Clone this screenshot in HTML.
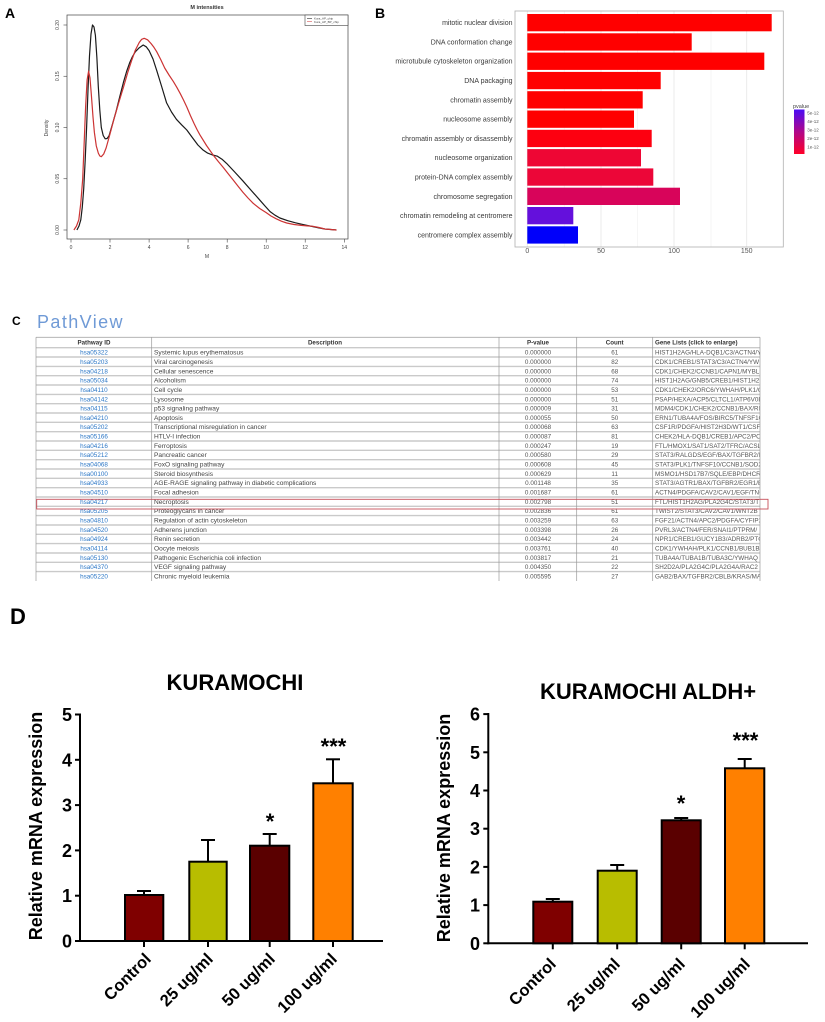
<!DOCTYPE html>
<html><head><meta charset="utf-8"><style>
html,body{margin:0;padding:0;background:#fff;}
svg{display:block;font-family:"Liberation Sans",Arial,sans-serif;}
</style></head><body>
<svg width="825" height="1022" viewBox="0 0 825 1022" xmlns="http://www.w3.org/2000/svg">
<defs>
<linearGradient id="pg" x1="0" y1="0" x2="0" y2="1">
<stop offset="0" stop-color="#4a0cf5"/><stop offset="0.5" stop-color="#b0088a"/><stop offset="1" stop-color="#ff0028"/>
</linearGradient>
<clipPath id="gc"><rect x="653" y="337" width="106.5" height="245"/></clipPath>
</defs>

<!-- Panel A -->
<text x="5" y="18" font-size="14" font-weight="bold" fill="#000">A</text>
<text x="207" y="9" font-size="5.5" font-weight="bold" text-anchor="middle" fill="#333">M intensities</text>
<rect x="67" y="15" width="281" height="224" fill="none" stroke="#444" stroke-width="0.7"/>
<rect x="305" y="15" width="43" height="10.5" fill="#fff" stroke="#444" stroke-width="0.6"/>
<line x1="307" y1="18.5" x2="312" y2="18.5" stroke="#000" stroke-width="0.5"/>
<line x1="307" y1="21.5" x2="312" y2="21.5" stroke="#c33" stroke-width="0.5"/>
<text x="314" y="19.5" font-size="3" fill="#444">Kura_AP_chip</text>
<text x="314" y="23" font-size="3" fill="#444">Kura_AP_BP_chip</text>
<g stroke="#444" stroke-width="0.6">
<line x1="71" y1="239" x2="71" y2="242.5"/><line x1="110" y1="239" x2="110" y2="242.5"/><line x1="149.1" y1="239" x2="149.1" y2="242.5"/><line x1="188.1" y1="239" x2="188.1" y2="242.5"/><line x1="227.2" y1="239" x2="227.2" y2="242.5"/><line x1="266.2" y1="239" x2="266.2" y2="242.5"/><line x1="305.2" y1="239" x2="305.2" y2="242.5"/><line x1="344.3" y1="239" x2="344.3" y2="242.5"/>
<line x1="67" y1="230" x2="63.5" y2="230"/><line x1="67" y1="178.75" x2="63.5" y2="178.75"/><line x1="67" y1="127.5" x2="63.5" y2="127.5"/><line x1="67" y1="76.25" x2="63.5" y2="76.25"/><line x1="67" y1="25" x2="63.5" y2="25"/>
</g>
<g font-size="5" fill="#444" text-anchor="middle">
<text x="71" y="249">0</text><text x="110" y="249">2</text><text x="149.1" y="249">4</text><text x="188.1" y="249">6</text><text x="227.2" y="249">8</text><text x="266.2" y="249">10</text><text x="305.2" y="249">12</text><text x="344.3" y="249">14</text>
<text x="207" y="258">M</text>
<text transform="translate(59,230) rotate(-90)">0.00</text>
<text transform="translate(59,178.75) rotate(-90)">0.05</text>
<text transform="translate(59,127.5) rotate(-90)">0.10</text>
<text transform="translate(59,76.25) rotate(-90)">0.15</text>
<text transform="translate(59,25) rotate(-90)">0.20</text>
<text transform="translate(48,128) rotate(-90)">Density</text>
</g>
<polyline fill="none" stroke="#1a1a1a" stroke-width="1.2" stroke-linejoin="round" points="76.9,230 79,226 80.8,219.8 82.3,207 83.7,189 85.2,160 86.6,127.5 88,90 89.5,55.8 91,34 92.5,25 94,27 95.4,35.3 96.9,58 98.3,86.5 99.8,110 101.3,127.5 103.2,135.5 105.2,138.8 107.1,138.5 109.1,135.7 112.5,124 115.9,112.1 119.8,96.5 123.7,81.4 126.6,71.5 129.6,62.9 132.5,56.5 135.4,51.7 139.3,47.7 143.2,45 146.2,46.8 149.1,50.6 153,59 156.9,71.1 161.8,87 166.6,102.9 171.5,112 176.4,119.3 181.6,124.8 186.8,130 192.3,137.5 197.9,145 202.7,149.7 207.6,153.1 212.5,155 217.4,156.2 222,159.2 226.6,163.4 234.7,172 242.8,180.8 251.4,190.6 260,200.3 265,206 270.1,211.6 275,215.2 279.9,218 287.7,220.7 295.5,222.8 304.3,224.8 313,226.6 318.9,227.9 324.8,229 336.5,230"/>
<polyline fill="none" stroke="#cc3333" stroke-width="1.2" stroke-linejoin="round" points="73.9,230 76.5,226 78.8,219.8 80.8,203 82.7,178.8 84.2,142 85.6,107 87.1,80 88.6,71.1 90,78 91.5,96.8 93,117 94.4,132.6 96.3,146 98.3,153.1 99.8,156 101.3,156.7 103.7,154 106.1,148 110,134 113.9,119.3 118.8,102.5 123.7,86.5 127.6,73 131.5,60.9 135.4,50 139.3,42.4 141.7,39.3 144.2,38.3 147.6,39.8 151,43.5 153.9,47.3 156.7,51.7 160.7,59.5 164.7,68 169,75 173.3,81.4 176.8,87.3 180.3,93.7 183.5,100 186.8,107 190.4,115.5 194,123.4 197,129.5 199.8,134.7 206.5,145.5 213.3,155.2 218.3,161.5 223.3,167.5 228.2,173.8 233,179.8 237.9,186 242.8,192.1 248,198 253.3,203.4 259.7,208.5 266.2,212.6 271,216 276,218.7 281.4,221.2 286.7,223 294,224.5 301.3,225.4 307,225.9 313,226.3 319,227.5 324.8,229 336.5,230"/>

<!-- Panel B -->
<text x="375" y="18" font-size="14" font-weight="bold" fill="#000">B</text>
<g stroke="#efefef" stroke-width="0.6">
<line x1="564.2" y1="11" x2="564.2" y2="247"/><line x1="637.6" y1="11" x2="637.6" y2="247"/><line x1="711" y1="11" x2="711" y2="247"/>
</g>
<g stroke="#e6e6e6" stroke-width="0.8">
<line x1="527.3" y1="11" x2="527.3" y2="247"/><line x1="601" y1="11" x2="601" y2="247"/><line x1="674" y1="11" x2="674" y2="247"/><line x1="746.7" y1="11" x2="746.7" y2="247"/>
</g>
<g>
<rect x="527.3" y="14" width="244.4" height="17.3" fill="#ff0000"/>
<rect x="527.3" y="33.3" width="164.4" height="17.3" fill="#ff0000"/>
<rect x="527.3" y="52.6" width="237" height="17.3" fill="#ff0000"/>
<rect x="527.3" y="71.9" width="133.4" height="17.3" fill="#ff0000"/>
<rect x="527.3" y="91.2" width="115.4" height="17.3" fill="#ff0000"/>
<rect x="527.3" y="110.5" width="106.7" height="17.3" fill="#ff0000"/>
<rect x="527.3" y="129.8" width="124.4" height="17.3" fill="#fd0010"/>
<rect x="527.3" y="149.1" width="113.7" height="17.3" fill="#ee0634"/>
<rect x="527.3" y="168.4" width="126" height="17.3" fill="#ec0638"/>
<rect x="527.3" y="187.7" width="152.7" height="17.3" fill="#d8045a"/>
<rect x="527.3" y="207" width="46" height="17.3" fill="#6410dc"/>
<rect x="527.3" y="226.3" width="50.7" height="17.3" fill="#0000fa"/>
</g>
<rect x="515" y="11" width="268.3" height="236" fill="none" stroke="#b0b0b0" stroke-width="0.8"/>
<g font-size="7" fill="#3a3a3a" text-anchor="end">
<text x="512.5" y="25.1">mitotic nuclear division</text>
<text x="512.5" y="44.4">DNA conformation change</text>
<text x="512.5" y="63.7">microtubule cytoskeleton organization</text>
<text x="512.5" y="83">DNA packaging</text>
<text x="512.5" y="102.3">chromatin assembly</text>
<text x="512.5" y="121.6">nucleosome assembly</text>
<text x="512.5" y="140.9">chromatin assembly or disassembly</text>
<text x="512.5" y="160.2">nucleosome organization</text>
<text x="512.5" y="179.5">protein-DNA complex assembly</text>
<text x="512.5" y="198.8">chromosome segregation</text>
<text x="512.5" y="218.1">chromatin remodeling at centromere</text>
<text x="512.5" y="237.4">centromere complex assembly</text>
</g>
<g font-size="7" fill="#555" text-anchor="middle">
<text x="527.3" y="253">0</text><text x="601" y="253">50</text><text x="674" y="253">100</text><text x="746.7" y="253">150</text>
</g>
<text x="793" y="108" font-size="5.5" fill="#444">pvalue</text>
<rect x="794" y="109.5" width="10.5" height="44.5" fill="url(#pg)"/>
<g font-size="4.5" fill="#555">
<text x="807.3" y="114.5">5e-12</text><text x="807.3" y="122.8">4e-12</text><text x="807.3" y="131.5">3e-12</text><text x="807.3" y="139.8">2e-12</text><text x="807.3" y="148.5">1e-12</text>
</g>

<!-- Panel C -->
<text x="12" y="325" font-size="12" font-weight="bold" fill="#000">C</text>
<text x="37" y="328" font-size="18" fill="#6f9ad6" letter-spacing="1.4">PathView</text>
<g stroke="#cacaca" stroke-width="1.4">
<line x1="36" y1="347.7" x2="760" y2="347.7"/><line x1="36" y1="357" x2="760" y2="357"/><line x1="36" y1="366.4" x2="760" y2="366.4"/><line x1="36" y1="375.7" x2="760" y2="375.7"/><line x1="36" y1="385" x2="760" y2="385"/><line x1="36" y1="394.4" x2="760" y2="394.4"/><line x1="36" y1="403.7" x2="760" y2="403.7"/><line x1="36" y1="413" x2="760" y2="413"/><line x1="36" y1="422.3" x2="760" y2="422.3"/><line x1="36" y1="431.7" x2="760" y2="431.7"/><line x1="36" y1="441" x2="760" y2="441"/><line x1="36" y1="450.3" x2="760" y2="450.3"/><line x1="36" y1="459.7" x2="760" y2="459.7"/><line x1="36" y1="469" x2="760" y2="469"/><line x1="36" y1="478.3" x2="760" y2="478.3"/><line x1="36" y1="487.7" x2="760" y2="487.7"/><line x1="36" y1="497" x2="760" y2="497"/><line x1="36" y1="506.3" x2="760" y2="506.3"/><line x1="36" y1="515.6" x2="760" y2="515.6"/><line x1="36" y1="525" x2="760" y2="525"/><line x1="36" y1="534.3" x2="760" y2="534.3"/><line x1="36" y1="543.6" x2="760" y2="543.6"/><line x1="36" y1="553" x2="760" y2="553"/><line x1="36" y1="562.3" x2="760" y2="562.3"/><line x1="36" y1="571.6" x2="760" y2="571.6"/>
</g>
<line x1="36" y1="337.3" x2="760" y2="337.3" stroke="#aaa" stroke-width="0.8"/>
<g stroke="#9a9a9a" stroke-width="0.7">
<line x1="36" y1="337.3" x2="36" y2="581"/><line x1="151.7" y1="337.3" x2="151.7" y2="581"/><line x1="499" y1="337.3" x2="499" y2="581"/><line x1="576.7" y1="337.3" x2="576.7" y2="581"/><line x1="652.7" y1="337.3" x2="652.7" y2="581"/><line x1="760" y1="337.3" x2="760" y2="581"/>
</g>
<g font-size="6.2" font-weight="bold" fill="#333">
<text x="94" y="344.6" text-anchor="middle">Pathway ID</text>
<text x="325" y="344.6" text-anchor="middle">Description</text>
<text x="538" y="344.6" text-anchor="middle">P-value</text>
<text x="614.7" y="344.6" text-anchor="middle">Count</text>
<text x="655" y="344.6">Gene Lists (click to enlarge)</text>
</g>
<g font-size="6.3" fill="#2a76c6" text-anchor="middle">
<text x="94" y="354.6">hsa05322</text><text x="94" y="363.9">hsa05203</text><text x="94" y="373.3">hsa04218</text><text x="94" y="382.6">hsa05034</text><text x="94" y="391.9">hsa04110</text><text x="94" y="401.3">hsa04142</text><text x="94" y="410.6">hsa04115</text><text x="94" y="419.9">hsa04210</text><text x="94" y="429.2">hsa05202</text><text x="94" y="438.6">hsa05166</text><text x="94" y="447.9">hsa04216</text><text x="94" y="457.2">hsa05212</text><text x="94" y="466.6">hsa04068</text><text x="94" y="475.9">hsa00100</text><text x="94" y="485.2">hsa04933</text><text x="94" y="494.6">hsa04510</text><text x="94" y="503.9">hsa04217</text><text x="94" y="513.2">hsa05205</text><text x="94" y="522.5">hsa04810</text><text x="94" y="531.9">hsa04520</text><text x="94" y="541.2">hsa04924</text><text x="94" y="550.5">hsa04114</text><text x="94" y="559.9">hsa05130</text><text x="94" y="569.2">hsa04370</text><text x="94" y="578.5">hsa05220</text>
</g>
<g font-size="6.6" fill="#444">
<text x="154" y="354.6">Systemic lupus erythematosus</text><text x="154" y="363.9">Viral carcinogenesis</text><text x="154" y="373.3">Cellular senescence</text><text x="154" y="382.6">Alcoholism</text><text x="154" y="391.9">Cell cycle</text><text x="154" y="401.3">Lysosome</text><text x="154" y="410.6">p53 signaling pathway</text><text x="154" y="419.9">Apoptosis</text><text x="154" y="429.2">Transcriptional misregulation in cancer</text><text x="154" y="438.6">HTLV-I infection</text><text x="154" y="447.9">Ferroptosis</text><text x="154" y="457.2">Pancreatic cancer</text><text x="154" y="466.6">FoxO signaling pathway</text><text x="154" y="475.9">Steroid biosynthesis</text><text x="154" y="485.2">AGE-RAGE signaling pathway in diabetic complications</text><text x="154" y="494.6">Focal adhesion</text><text x="154" y="503.9">Necroptosis</text><text x="154" y="513.2">Proteoglycans in cancer</text><text x="154" y="522.5">Regulation of actin cytoskeleton</text><text x="154" y="531.9">Adherens junction</text><text x="154" y="541.2">Renin secretion</text><text x="154" y="550.5">Oocyte meiosis</text><text x="154" y="559.9">Pathogenic Escherichia coli infection</text><text x="154" y="569.2">VEGF signaling pathway</text><text x="154" y="578.5">Chronic myeloid leukemia</text>
</g>
<g font-size="6.3" fill="#555" text-anchor="middle">
<text x="538" y="354.6">0.000000</text><text x="538" y="363.9">0.000000</text><text x="538" y="373.3">0.000000</text><text x="538" y="382.6">0.000000</text><text x="538" y="391.9">0.000000</text><text x="538" y="401.3">0.000000</text><text x="538" y="410.6">0.000009</text><text x="538" y="419.9">0.000055</text><text x="538" y="429.2">0.000068</text><text x="538" y="438.6">0.000087</text><text x="538" y="447.9">0.000247</text><text x="538" y="457.2">0.000580</text><text x="538" y="466.6">0.000608</text><text x="538" y="475.9">0.000629</text><text x="538" y="485.2">0.001148</text><text x="538" y="494.6">0.001687</text><text x="538" y="503.9">0.002798</text><text x="538" y="513.2">0.002836</text><text x="538" y="522.5">0.003259</text><text x="538" y="531.9">0.003398</text><text x="538" y="541.2">0.003442</text><text x="538" y="550.5">0.003761</text><text x="538" y="559.9">0.003817</text><text x="538" y="569.2">0.004350</text><text x="538" y="578.5">0.005595</text>
<text x="614.7" y="354.6">61</text><text x="614.7" y="363.9">82</text><text x="614.7" y="373.3">68</text><text x="614.7" y="382.6">74</text><text x="614.7" y="391.9">53</text><text x="614.7" y="401.3">51</text><text x="614.7" y="410.6">31</text><text x="614.7" y="419.9">50</text><text x="614.7" y="429.2">63</text><text x="614.7" y="438.6">81</text><text x="614.7" y="447.9">19</text><text x="614.7" y="457.2">29</text><text x="614.7" y="466.6">45</text><text x="614.7" y="475.9">11</text><text x="614.7" y="485.2">35</text><text x="614.7" y="494.6">61</text><text x="614.7" y="503.9">51</text><text x="614.7" y="513.2">61</text><text x="614.7" y="522.5">63</text><text x="614.7" y="531.9">26</text><text x="614.7" y="541.2">24</text><text x="614.7" y="550.5">40</text><text x="614.7" y="559.9">21</text><text x="614.7" y="569.2">22</text><text x="614.7" y="578.5">27</text>
</g>
<g font-size="6.3" fill="#555" clip-path="url(#gc)">
<text x="655" y="354.6">HIST1H2AG/HLA-DQB1/C3/ACTN4/YWHAH</text><text x="655" y="363.9">CDK1/CREB1/STAT3/C3/ACTN4/YWHAH</text><text x="655" y="373.3">CDK1/CHEK2/CCNB1/CAPN1/MYBL2</text><text x="655" y="382.6">HIST1H2AG/GNB5/CREB1/HIST1H2BK</text><text x="655" y="391.9">CDK1/CHEK2/ORC6/YWHAH/PLK1/CCNB1</text><text x="655" y="401.3">PSAP/HEXA/ACP5/CLTCL1/ATP6V0D2</text><text x="655" y="410.6">MDM4/CDK1/CHEK2/CCNB1/BAX/RRM2</text><text x="655" y="419.9">ERN1/TUBA4A/FOS/BIRC5/TNFSF10</text><text x="655" y="429.2">CSF1R/PDGFA/HIST2H3D/WT1/CSF2</text><text x="655" y="438.6">CHEK2/HLA-DQB1/CREB1/APC2/POLE</text><text x="655" y="447.9">FTL/HMOX1/SAT1/SAT2/TFRC/ACSL4</text><text x="655" y="457.2">STAT3/RALGDS/EGF/BAX/TGFBR2/KRAS</text><text x="655" y="466.6">STAT3/PLK1/TNFSF10/CCNB1/SOD2</text><text x="655" y="475.9">MSMO1/HSD17B7/SQLE/EBP/DHCR7</text><text x="655" y="485.2">STAT3/AGTR1/BAX/TGFBR2/EGR1/EGF</text><text x="655" y="494.6">ACTN4/PDGFA/CAV2/CAV1/EGF/TNC</text><text x="655" y="503.9">FTL/HIST1H2AG/PLA2G4C/STAT3/TNF</text><text x="655" y="513.2">TWIST2/STAT3/CAV2/CAV1/WNT2B</text><text x="655" y="522.5">FGF21/ACTN4/APC2/PDGFA/CYFIP2</text><text x="655" y="531.9">PVRL3/ACTN4/FER/SNAI1/PTPRM/</text><text x="655" y="541.2">NPR1/CREB1/GUCY1B3/ADRB2/PTGER</text><text x="655" y="550.5">CDK1/YWHAH/PLK1/CCNB1/BUB1B</text><text x="655" y="559.9">TUBA4A/TUBA1B/TUBA3C/YWHAQ</text><text x="655" y="569.2">SH2D2A/PLA2G4C/PLA2G4A/RAC2</text><text x="655" y="578.5">GAB2/BAX/TGFBR2/CBLB/KRAS/MAPK</text>
</g>
<rect x="36.7" y="499.3" width="731.3" height="9.7" fill="none" stroke="#c8505a" stroke-width="0.9"/>

<!-- Panel D -->
<text x="10" y="624" font-size="22" font-weight="bold" fill="#000">D</text>

<!-- Left chart -->
<text x="235" y="690" font-size="22" font-weight="bold" text-anchor="middle" fill="#000">KURAMOCHI</text>
<text transform="translate(42,826) rotate(-90)" font-size="18" font-weight="bold" text-anchor="middle" fill="#000">Relative mRNA expression</text>
<g stroke="#000" stroke-width="2" fill="none">
<line x1="80" y1="713.5" x2="80" y2="942"/>
<line x1="79" y1="941" x2="383" y2="941"/>
<line x1="75" y1="941" x2="80" y2="941"/><line x1="75" y1="895.7" x2="80" y2="895.7"/><line x1="75" y1="850.4" x2="80" y2="850.4"/><line x1="75" y1="805.1" x2="80" y2="805.1"/><line x1="75" y1="759.8" x2="80" y2="759.8"/><line x1="75" y1="714.5" x2="80" y2="714.5"/>
<line x1="144" y1="941" x2="144" y2="947"/><line x1="208" y1="941" x2="208" y2="947"/><line x1="269.7" y1="941" x2="269.7" y2="947"/><line x1="333" y1="941" x2="333" y2="947"/>
</g>
<g font-size="18" font-weight="bold" text-anchor="end" fill="#000">
<text x="72" y="947.5">0</text><text x="72" y="902.2">1</text><text x="72" y="856.9">2</text><text x="72" y="811.6">3</text><text x="72" y="766.3">4</text><text x="72" y="721">5</text>
</g>
<g stroke="#000" stroke-width="2">
<line x1="144" y1="895" x2="144" y2="891"/><line x1="137" y1="891" x2="151" y2="891"/>
<line x1="208" y1="861.7" x2="208" y2="840"/><line x1="201" y1="840" x2="215" y2="840"/>
<line x1="269.7" y1="845.7" x2="269.7" y2="834"/><line x1="262.7" y1="834" x2="276.7" y2="834"/>
<line x1="333" y1="783.3" x2="333" y2="759.3"/><line x1="326" y1="759.3" x2="340" y2="759.3"/>
<rect x="125" y="895" width="38.3" height="46" fill="#7f0000"/>
<rect x="189.3" y="861.7" width="37.4" height="79.3" fill="#b8bd00"/>
<rect x="250" y="845.7" width="39.3" height="95.3" fill="#5a0000"/>
<rect x="313.3" y="783.3" width="39.4" height="157.7" fill="#ff8000"/>
</g>
<g font-size="22" font-weight="bold" text-anchor="middle" fill="#000">
<text x="270" y="829">*</text>
<text x="333.5" y="754">***</text>
</g>
<g font-size="16.5" font-weight="bold" text-anchor="end" fill="#000">
<text transform="translate(152,960) rotate(-45)">Control</text>
<text transform="translate(214,960) rotate(-45)">25 ug/ml</text>
<text transform="translate(276,960) rotate(-45)">50 ug/ml</text>
<text transform="translate(338,960) rotate(-45)">100 ug/ml</text>
</g>

<!-- Right chart -->
<text x="648" y="699" font-size="22" font-weight="bold" text-anchor="middle" fill="#000">KURAMOCHI ALDH+</text>
<text transform="translate(450,828) rotate(-90)" font-size="18" font-weight="bold" text-anchor="middle" fill="#000">Relative mRNA expression</text>
<g stroke="#000" stroke-width="2" fill="none">
<line x1="488.3" y1="713" x2="488.3" y2="944.3"/>
<line x1="487.3" y1="943.3" x2="808" y2="943.3"/>
<line x1="483.3" y1="943.3" x2="488.3" y2="943.3"/><line x1="483.3" y1="905.1" x2="488.3" y2="905.1"/><line x1="483.3" y1="866.9" x2="488.3" y2="866.9"/><line x1="483.3" y1="828.7" x2="488.3" y2="828.7"/><line x1="483.3" y1="790.5" x2="488.3" y2="790.5"/><line x1="483.3" y1="752.3" x2="488.3" y2="752.3"/><line x1="483.3" y1="714.1" x2="488.3" y2="714.1"/>
<line x1="552.8" y1="943.3" x2="552.8" y2="949.3"/><line x1="617.2" y1="943.3" x2="617.2" y2="949.3"/><line x1="681.2" y1="943.3" x2="681.2" y2="949.3"/><line x1="744.7" y1="943.3" x2="744.7" y2="949.3"/>
</g>
<g font-size="18" font-weight="bold" text-anchor="end" fill="#000">
<text x="480" y="949.8">0</text><text x="480" y="911.6">1</text><text x="480" y="873.4">2</text><text x="480" y="835.2">3</text><text x="480" y="797">4</text><text x="480" y="758.8">5</text><text x="480" y="720.6">6</text>
</g>
<g stroke="#000" stroke-width="2">
<line x1="552.8" y1="901.7" x2="552.8" y2="899"/><line x1="545.8" y1="899" x2="559.8" y2="899"/>
<line x1="617.2" y1="870.7" x2="617.2" y2="865"/><line x1="610.2" y1="865" x2="624.2" y2="865"/>
<line x1="681.2" y1="820.3" x2="681.2" y2="818"/><line x1="674.2" y1="818" x2="688.2" y2="818"/>
<line x1="744.7" y1="768.3" x2="744.7" y2="759"/><line x1="737.7" y1="759" x2="751.7" y2="759"/>
<rect x="533.3" y="901.7" width="39" height="41.6" fill="#7f0000"/>
<rect x="597.7" y="870.7" width="39" height="72.6" fill="#b8bd00"/>
<rect x="661.7" y="820.3" width="39" height="123" fill="#5a0000"/>
<rect x="725" y="768.3" width="39.3" height="175" fill="#ff8000"/>
</g>
<g font-size="22" font-weight="bold" text-anchor="middle" fill="#000">
<text x="681" y="811">*</text>
<text x="745.5" y="748">***</text>
</g>
<g font-size="16.5" font-weight="bold" text-anchor="end" fill="#000">
<text transform="translate(557,965) rotate(-45)">Control</text>
<text transform="translate(621,965) rotate(-45)">25 ug/ml</text>
<text transform="translate(686,965) rotate(-45)">50 ug/ml</text>
<text transform="translate(751,965) rotate(-45)">100 ug/ml</text>
</g>
</svg>
</body></html>
